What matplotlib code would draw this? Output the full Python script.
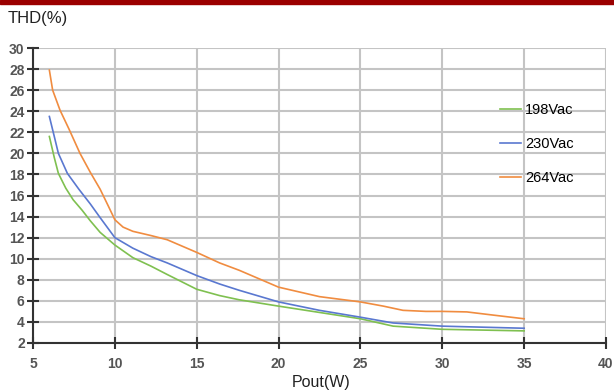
import matplotlib.pyplot as plt
from matplotlib.lines import Line2D

plt.rcParams['font.family'] = ['Liberation Sans', 'DejaVu Sans']

# THD vs output power, one curve per input voltage
pout_198 = [6.0, 6.3, 6.55, 7.0, 7.45, 8.0, 8.5, 9.1, 10.0, 11.1, 12.2, 13.2, 15.0, 16.4, 17.6, 20.0, 22.5, 25.0, 27.0, 30.0, 35.0]
thd_198 = [21.6, 19.6, 18.1, 16.7, 15.6, 14.6, 13.6, 12.5, 11.3, 10.1, 9.3, 8.5, 7.1, 6.5, 6.1, 5.5, 4.9, 4.3, 3.6, 3.3, 3.15]

pout_230 = [6.0, 6.3, 6.55, 7.1, 7.8, 8.5, 9.1, 10.0, 11.1, 12.2, 13.2, 15.0, 16.4, 17.6, 20.0, 22.5, 25.0, 27.0, 30.0, 35.0]
thd_230 = [23.5, 21.6, 20.0, 18.1, 16.6, 15.2, 13.9, 12.0, 11.0, 10.2, 9.6, 8.4, 7.6, 7.0, 5.9, 5.1, 4.45, 3.9, 3.6, 3.4]

pout_264 = [6.0, 6.2, 6.65, 7.2, 7.87, 8.5, 9.1, 9.6, 10.0, 10.5, 11.1, 12.2, 13.2, 15.0, 16.4, 17.6, 20.0, 22.5, 25.0, 26.4, 27.6, 29.0, 30.0, 31.5, 33.1, 35.0]
thd_264 = [27.9, 26.0, 24.1, 22.3, 20.0, 18.2, 16.6, 15.0, 13.7, 13.0, 12.6, 12.2, 11.8, 10.6, 9.6, 8.9, 7.3, 6.4, 5.9, 5.5, 5.1, 5.0, 5.0, 4.95, 4.65, 4.3]

labels = ['198Vac', '230Vac', '264Vac']
colors = ['#7fc050', '#5a78d0', '#f08c40']

x_ticks = [5, 10, 15, 20, 25, 30, 35, 40]
y_ticks = list(range(2, 31, 2))

fig = plt.figure(figsize=(6.14, 3.92), dpi=100)
ax = fig.add_axes([33 / 614, 1 - 343 / 392, 573 / 614, 295 / 392])

# dark red band across the top
fig.patches.append(plt.Rectangle((0, 1 - 4 / 392), 1, 4 / 392, transform=fig.transFigure,
                                 color='#9b0000', zorder=5))

for xs, ys, c in zip([pout_198, pout_230, pout_264], [thd_198, thd_230, thd_264], colors):
    ax.plot(xs, ys, color=c, lw=1.2, zorder=3, solid_joinstyle='round')

ax.set_xlim(5, 40)
ax.set_ylim(2, 30)
ax.set_xticks(x_ticks)
ax.set_yticks(y_ticks)
ax.grid(True, color='#c4c4c4', lw=1.5)
ax.set_axisbelow(True)

for s in ['top', 'right']:
    ax.spines[s].set_visible(False)
for s in ['left', 'bottom']:
    ax.spines[s].set_color('#333333')
    ax.spines[s].set_linewidth(1.5)
ax.tick_params(direction='inout', length=8, width=1.5, color='#333333',
               labelsize=10, labelcolor='#555555')
for lab in ax.get_xticklabels() + ax.get_yticklabels():
    lab.set_fontweight('bold')
ax.tick_params(axis='x', pad=6)
ax.tick_params(axis='y', pad=2)

fig.text(8 / 614, 1 - 19 / 392, 'THD(%)', fontsize=12, color='#222222', va='center', ha='left')
fig.text(321 / 614, 1 - 382 / 392, 'Pout(W)', fontsize=11.5, color='#222222', va='center', ha='center')

handles = [Line2D([], [], color=c, lw=1.2) for c in colors]
ax.legend(handles, labels, loc='upper left', bbox_to_anchor=(487 / 614, 1 - 90 / 392),
          bbox_transform=fig.transFigure, frameon=False, fontsize=10.5,
          handlelength=1.4, handletextpad=0.3, labelspacing=1.38)

fig.savefig('out.png', dpi=100)
